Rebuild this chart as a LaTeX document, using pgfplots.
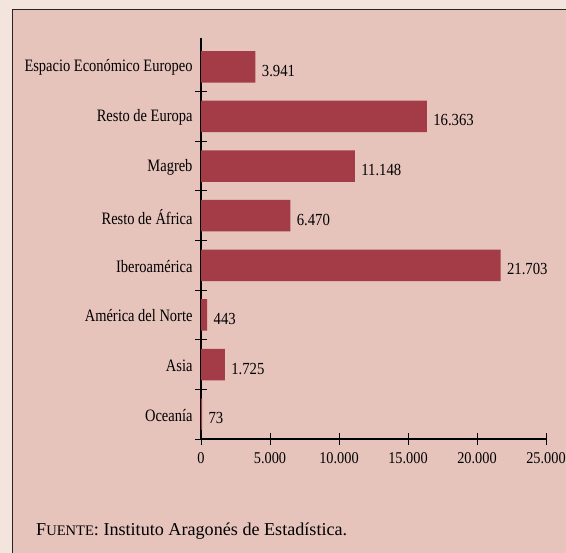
\documentclass[border=0pt]{standalone}
\usepackage{fontspec}
\setmainfont{Liberation Serif}[FakeStretch=0.83]
\newfontfamily\srcfont{Liberation Serif}
\newfontfamily\numfont{Liberation Serif}[FakeStretch=0.87]
\usepackage{pgfplots}
\pgfplotsset{compat=1.18}
\definecolor{outerbg}{HTML}{F3E4DD}
\definecolor{innerbg}{HTML}{E6C4BC}
\definecolor{barc}{HTML}{A33C47}
\begin{document}
\begin{tikzpicture}
\path[use as bounding box] (0bp,0bp) rectangle (566bp,-553bp);
\clip (0bp,0bp) rectangle (566bp,-553bp);
\fill[outerbg] (0bp,0bp) rectangle (566bp,-553bp);
\fill[innerbg, draw=black!85, line width=1.5bp] (12.5bp,-9.5bp) rectangle (590bp,-580bp);
\node[anchor=base west, inner sep=0, font=\srcfont\fontsize{18.2}{20}\selectfont] at (36bp,-535bp) {F{\fontsize{14.6}{16}\selectfont UENTE}: Instituto Aragonés de Estadística.};
\begin{axis}[at={(201bp,-439bp)}, anchor=south west, scale only axis,
  width=345bp, height=401bp,
  xbar, bar width=31.5bp,
  xmin=0, xmax=25000, ymin=-0.5, ymax=7.58,
  clip=false,
  axis x line*=bottom, axis y line*=left,
  axis line style={-, line width=1.2bp, black},
  tick align=center, major tick length=12bp,
  tick style={black, line width=1bp},
  xtick={0,5000,10000,15000,20000,25000},
  scaled x ticks=false,
  xticklabel style={font=\numfont\fontsize{16.5}{18}\selectfont, yshift=-4bp},
  ytick={-0.5,0.5,1.5,2.5,3.5,4.5,5.5,6.5},
  yticklabels={},
  extra y ticks={0,1,2,3,4,5,6,7},
  extra y tick labels={Oceanía, Asia, América del Norte, Iberoamérica, Resto de África, Magreb, Resto de Europa, Espacio Económico Europeo},
  extra y tick style={major tick length=0pt, yticklabel style={font=\fontsize{17.5}{19}\selectfont, xshift=-5bp, yshift=-1bp}},
  /pgf/number format/1000 sep={.},
  /pgf/number format/fixed,
  /pgf/number format/precision=0,
  /pgf/number format/assume math mode=true,
  point meta=x,
  nodes near coords,
  nodes near coords style={font=\numfont\fontsize{17}{19}\selectfont, anchor=west, xshift=3bp, yshift=-4bp},
]
\addplot[fill=barc, draw=none] coordinates {(73,0) (1725,1) (443,2) (21703,3) (6470,4) (11148,5) (16363,6) (3941,7)};
\end{axis}
\end{tikzpicture}
\end{document}
